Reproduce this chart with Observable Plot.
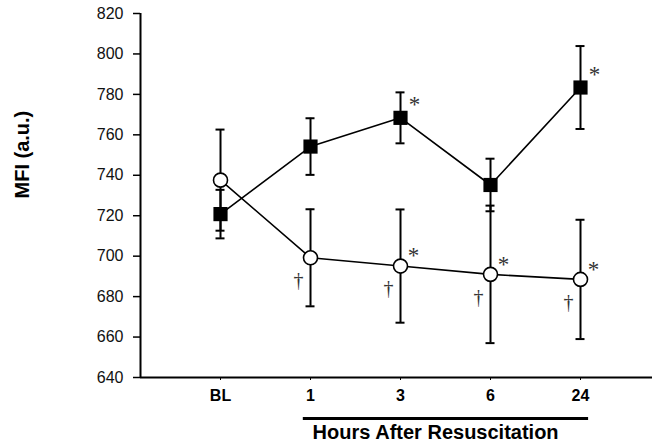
<!DOCTYPE html>
<html>
<head>
<meta charset="utf-8">
<script src="https://cdn.jsdelivr.net/npm/d3@7"></script>
<script src="https://cdn.jsdelivr.net/npm/@observablehq/plot@0.6"></script>
<style>
  html, body { margin: 0; padding: 0; background: #fff; }
  #chart svg { display: block; }
</style>
</head>
<body>
<div id="chart"></div>
<script>
const categories = ["BL", "1", "3", "6", "24"];
const yTicks = [640, 660, 680, 700, 720, 740, 760, 780, 800, 820];

const filledMean = [720.8, 754.2, 768.4, 735.2, 783.4];
const filledErr  = [12, 14, 12.6, 13, 20.5];
const filledStar = [false, false, true, false, true];

const openMean = [737.6, 699.2, 695.1, 691.0, 688.5];
const openErr  = [25, 24, 28, 34, 29.5];
const openStar = [false, false, true, true, true];
const openDagger = [false, true, true, true, true];

const yLabel = "MFI (a.u.)";
const xTitle = "Hours After Resuscitation";

const build = (mean, err, star, dagger) => categories.map((c, i) => ({
  i, cat: c, v: mean[i], lo: mean[i] - err[i], hi: mean[i] + err[i],
  star: star[i], dagger: dagger ? dagger[i] : false
}));
const filled = build(filledMean, filledErr, filledStar);
const open = build(openMean, openErr, openStar, openDagger);

const font = "'Liberation Sans', Arial, sans-serif";
const serif = "'Liberation Serif', 'Times New Roman', serif";
const capHalf = 0.05;

const chart = Plot.plot({
  width: 652,
  height: 442,
  marginLeft: 140,
  marginRight: 0,
  marginTop: 13,
  marginBottom: 65,
  style: { fontFamily: font, background: "#fff", overflow: "visible" },
  x: { type: "linear", domain: [-0.889, 4.8], axis: null },
  y: { domain: [640, 820], axis: null },
  marks: [
    // axes lines
    Plot.ruleX([-0.889], { y1: 640, y2: 820, stroke: "#000", strokeWidth: 2 }),
    Plot.ruleY([640], { stroke: "#000", strokeWidth: 2 }),
    Plot.axisY({ ticks: yTicks, anchor: "left", tickSize: 7, tickPadding: 10, tickWidth: 1.5,
      fontSize: 16, fill: "#111", label: null, strokeWidth: 1.5 }),
    Plot.axisX({ ticks: d3.range(categories.length), tickFormat: (d) => categories[d],
      anchor: "bottom", tickSize: 3, tickPadding: 9, fontSize: 16, fontWeight: "bold", label: null }),
    // bracket and title under axis
    Plot.ruleY([640], { x1: 0.92, x2: 4.09, dy: 41, stroke: "#000", strokeWidth: 3 }),
    Plot.text([xTitle], { x: 2.39, y: 640, dy: 55, fontSize: 20, fontWeight: "bold", fill: "#000" }),
    Plot.text([yLabel], { frameAnchor: "left", dx: -118, dy: 3, rotate: -90, fontSize: 20, fontWeight: "bold", fill: "#000" }),
    // error bars: filled series
    Plot.ruleX(filled, { x: "i", y1: "lo", y2: "hi", stroke: "#000", strokeWidth: 2 }),
    Plot.ruleY(filled, { y: "lo", x1: (d) => d.i - capHalf, x2: (d) => d.i + capHalf, stroke: "#000", strokeWidth: 2 }),
    Plot.ruleY(filled, { y: "hi", x1: (d) => d.i - capHalf, x2: (d) => d.i + capHalf, stroke: "#000", strokeWidth: 2 }),
    // error bars: open series
    Plot.ruleX(open, { x: "i", y1: "lo", y2: "hi", stroke: "#000", strokeWidth: 2 }),
    Plot.ruleY(open, { y: "lo", x1: (d) => d.i - capHalf, x2: (d) => d.i + capHalf, stroke: "#000", strokeWidth: 2 }),
    Plot.ruleY(open, { y: "hi", x1: (d) => d.i - capHalf, x2: (d) => d.i + capHalf, stroke: "#000", strokeWidth: 2 }),
    // lines
    Plot.line(filled, { x: "i", y: "v", stroke: "#000", strokeWidth: 1.6 }),
    Plot.line(open, { x: "i", y: "v", stroke: "#000", strokeWidth: 1.6 }),
    // markers
    Plot.dot(filled, { x: "i", y: "v", symbol: "square", r: 8, fill: "#000", stroke: "none" }),
    Plot.dot(open, { x: "i", y: "v", symbol: "circle", r: 7, fill: "#fff", stroke: "#000", strokeWidth: 1.6 }),
    // annotations
    Plot.text(filled.filter((d) => d.star), { x: "i", y: "v", text: () => "*", dx: 14, dy: -13, fontSize: 23, fontFamily: serif, fill: "#333" }),
    Plot.text(open.filter((d) => d.star), { x: "i", y: "v", text: () => "*", dx: 13, dy: -10, fontSize: 23, fontFamily: serif, fill: "#333" }),
    Plot.text(open.filter((d) => d.dagger), { x: "i", y: "v", text: () => "†", dx: -12, dy: 23, fontSize: 20, fontFamily: serif, fill: "#333" })
  ]
});

document.getElementById("chart").appendChild(chart);
</script>
</body>
</html>
